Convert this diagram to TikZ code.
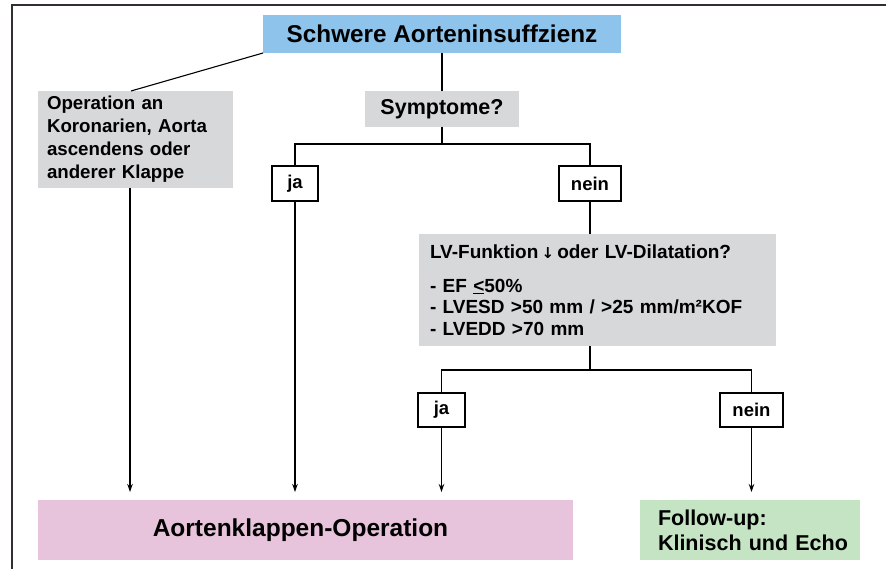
\documentclass[tikz,border=0pt]{standalone}
\usepackage{fontspec}
\setmainfont{Liberation Sans}
\newfontfamily\arrowfont{DejaVu Sans}
\usetikzlibrary{arrows.meta}
\definecolor{tblue}{RGB}{142,196,235}
\definecolor{tgray}{RGB}{215,216,218}
\definecolor{tpink}{RGB}{232,196,220}
\definecolor{tgreen}{RGB}{196,228,196}
\definecolor{framec}{RGB}{50,45,50}
\begin{document}
\begin{tikzpicture}[x=1pt,y=-1pt,
  box/.style={inner sep=0pt,outer sep=0pt,font=\bfseries},
  yn/.style={box,draw=black,line width=1.4pt,fill=white,font=\bfseries\fontsize{18.5}{20}\selectfont},
  conn/.style={line width=1.1pt},
  arr/.style={conn,-{Stealth[length=8pt,width=5.5pt]},shorten >=8pt}]
\useasboundingbox (0,0) rectangle (886,569);
\draw[framec,line width=2pt] (886,5) -- (12,5) -- (12,569);
\node[box,fill=tblue,minimum width=358pt,minimum height=38pt,font=\bfseries\fontsize{24.3}{26}\selectfont] (title) at (442,34) {Schwere Aorteninsuffzienz};
\node[box,fill=tgray,minimum width=195pt,minimum height=97pt,text width=177pt,align=left,font=\bfseries\fontsize{18.7}{23}\selectfont] (op) at (135.5,139.5) {Operation an\\Koronarien, Aorta\\ascendens oder\\anderer Klappe};
\node[box,fill=tgray,minimum width=154pt,minimum height=36pt,font=\bfseries\fontsize{21.5}{23}\selectfont] (symp) at (442,109) {Symptome?};
\node[yn,minimum width=46pt,minimum height=35pt] (ja1) at (295,183.5) {ja};
\node[yn,minimum width=62pt,minimum height=35pt] (nein1) at (590,183.5) {nein};
\node[box,fill=tgray,minimum width=357pt,minimum height=112pt,text width=335pt,align=left,font=\bfseries\fontsize{19}{21.5}\selectfont] (lv) at (597.5,290) {LV-Funktion\,{\arrowfont\fontsize{15}{15}\selectfont↓}\,oder LV-Dilatation?\\[12pt]- EF \underline{<}50\%\\- LVESD >50 mm / >25 mm/m²KOF\\- LVEDD >70 mm};
\node[yn,minimum width=47pt,minimum height=34pt] (ja2) at (441.5,410) {ja};
\node[yn,minimum width=63pt,minimum height=34pt] (nein2) at (751.5,410) {nein};
\node[box,fill=tpink,minimum width=535pt,minimum height=60pt,font=\bfseries\fontsize{24.5}{26}\selectfont] (aop) at (305.5,530) {\hspace*{-10pt}Aortenklappen-Operation};
\node[box,fill=tgreen,minimum width=220pt,minimum height=60pt,text width=204pt,align=left,font=\bfseries\fontsize{21.5}{25}\selectfont] (fu) at (750,530) {\hspace*{10pt}Follow-up:\\\hspace*{10pt}Klinisch und Echo};
\coordinate (b1) at (442,144);
\coordinate (b2) at (590,370);
\draw[conn] (title.south west) -- ([xshift=-4.5pt]op.north);
\draw[conn] (title.south) -- (symp.north);
\draw[conn] (symp.south) -- (b1);
\draw[conn] (ja1.north) -- (ja1.north |- b1) -- (nein1.north |- b1) -- (nein1.north);
\draw[conn] (nein1.south) -- (nein1.south |- lv.north);
\draw[conn] (b2 |- lv.south) -- (b2);
\draw[conn] (ja2.north) -- (ja2.north |- b2) -- (nein2.north |- b2) -- (nein2.north);
\draw[arr] ([xshift=-5.5pt]op.south) -- ([xshift=-5.5pt]op.south |- aop.north);
\draw[arr] (ja1.south) -- (ja1.south |- aop.north);
\draw[arr] (ja2.south) -- (ja2.south |- aop.north);
\draw[arr] (nein2.south) -- (nein2.south |- fu.north);
\end{tikzpicture}
\end{document}
